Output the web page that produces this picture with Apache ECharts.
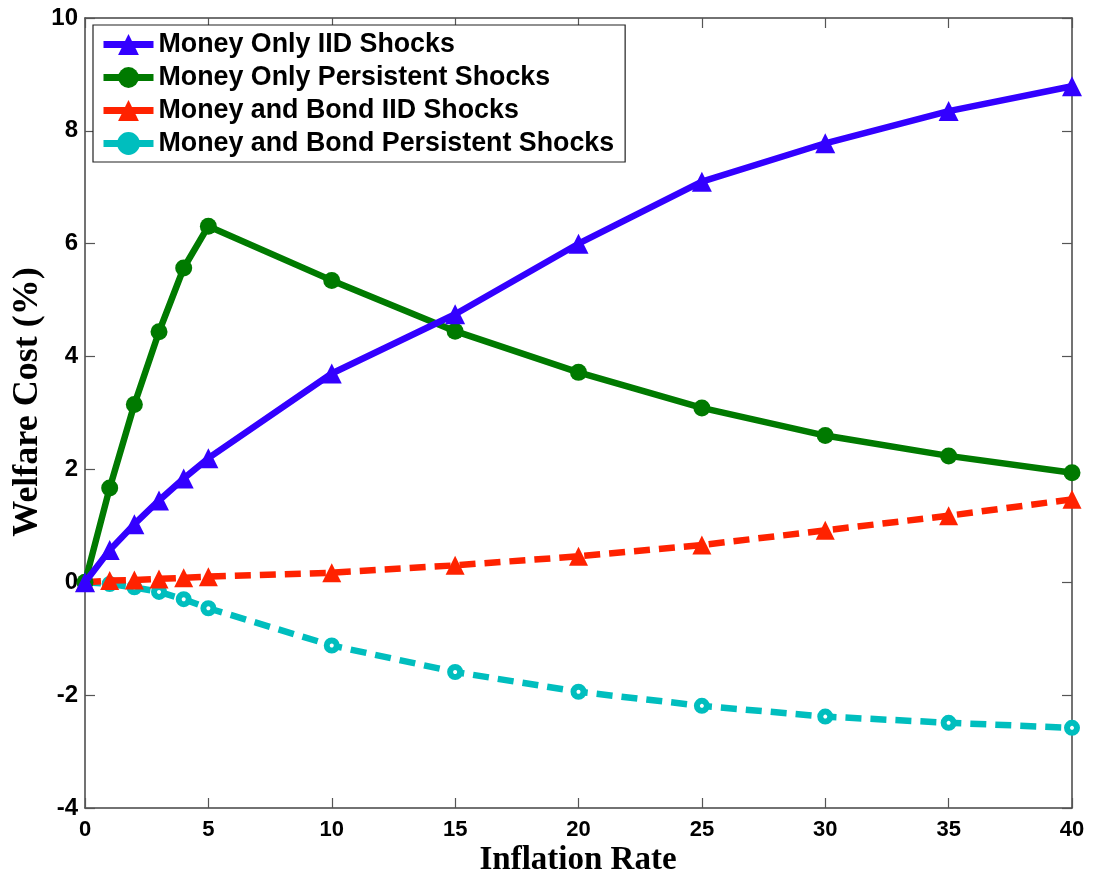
<!DOCTYPE html>
<html>
<head>
<meta charset="utf-8">
<script src="https://cdn.jsdelivr.net/npm/echarts@6/dist/echarts.min.js"></script>
<style>
  html, body { margin: 0; padding: 0; background: #fff; }
  #chart { width: 1094px; height: 879px; }
</style>
</head>
<body>
<div id="chart"></div>
<script>
// Inflation rates (%) at which welfare cost was evaluated
const inflation = [0, 1, 2, 3, 4, 5, 10, 15, 20, 25, 30, 35, 40];

// Welfare cost (%) for each scenario
const moneyOnlyIID        = [0, 0.57, 1.03, 1.45, 1.84, 2.2, 3.7, 4.75, 6.0, 7.1, 7.78, 8.35, 8.79];
const moneyOnlyPersistent = [0, 1.67, 3.15, 4.44, 5.57, 6.31, 5.35, 4.45, 3.72, 3.09, 2.6, 2.24, 1.94];
const moneyBondIID        = [0, 0.03, 0.04, 0.06, 0.08, 0.1, 0.17, 0.3, 0.46, 0.66, 0.92, 1.18, 1.47];
const moneyBondPersistent = [0, -0.03, -0.09, -0.17, -0.3, -0.46, -1.12, -1.59, -1.94, -2.19, -2.38, -2.49, -2.58];

const seriesNames = [
  'Money Only IID Shocks',
  'Money Only Persistent Shocks',
  'Money and Bond IID Shocks',
  'Money and Bond Persistent Shocks'
];

const xTitle = 'Inflation Rate';
const yTitle = 'Welfare Cost (%)';

const xTicks = { min: 0, max: 40, interval: 5 };
const yTicks = { min: -4, max: 10, interval: 2 };

const pairs = ys => inflation.map((x, i) => [x, ys[i]]);

const sansBold = 'Liberation Sans, Arial, sans-serif';
const serifTitle = 'bold 33px "Liberation Serif", "Times New Roman", serif';
const frameLine = { show: true, onZero: false, lineStyle: { color: '#444', width: 1.5 } };
const innerTick = { show: true, inside: true, length: 10, lineStyle: { color: '#555', width: 1.2 } };

const chart = echarts.init(document.getElementById('chart'), null, { renderer: 'canvas' });

chart.setOption({
  backgroundColor: '#fff',
  animation: false,
  grid: { left: 85, right: 22, top: 18, bottom: 71, containLabel: false, outerBoundsMode: 'none' },
  legend: {
    orient: 'vertical',
    left: 93,
    top: 25,
    padding: [6, 11, 5, 7],
    itemGap: 6,
    itemWidth: 50,
    itemHeight: 26,
    backgroundColor: '#fff',
    borderColor: '#222',
    borderWidth: 1.2,
    borderRadius: 0,
    lineStyle: { width: 7, type: 'solid' },
    textStyle: { fontFamily: sansBold, fontWeight: 'bold', fontSize: 26.8, color: '#000' },
    data: [
      { name: seriesNames[0] },
      { name: seriesNames[1] },
      { name: seriesNames[2] },
      { name: seriesNames[3], itemStyle: { color: '#00bebe', borderColor: '#00bebe', borderWidth: 2 } }
    ]
  },
  xAxis: [
    {
      type: 'value', min: xTicks.min, max: xTicks.max, interval: xTicks.interval,
      axisLine: frameLine, axisTick: innerTick,
      axisLabel: { margin: 11, fontFamily: sansBold, fontWeight: 'bold', fontSize: 22, color: '#000' },
      splitLine: { show: false }
    },
    {
      type: 'value', position: 'top', min: xTicks.min, max: xTicks.max, interval: xTicks.interval,
      axisLine: frameLine, axisTick: innerTick, axisLabel: { show: false }, splitLine: { show: false }
    }
  ],
  yAxis: [
    {
      type: 'value', min: yTicks.min, max: yTicks.max, interval: yTicks.interval,
      axisLine: frameLine, axisTick: innerTick,
      axisLabel: { margin: 7, fontFamily: sansBold, fontWeight: 'bold', fontSize: 24, color: '#000' },
      splitLine: { show: false }
    },
    {
      type: 'value', position: 'right', min: yTicks.min, max: yTicks.max, interval: yTicks.interval,
      axisLine: frameLine, axisTick: innerTick, axisLabel: { show: false }, splitLine: { show: false }
    }
  ],
  graphic: [
    {
      type: 'text',
      x: 28, y: 402,
      rotation: Math.PI / 2,
      style: { text: yTitle, font: 'bold 36px "Liberation Serif", "Times New Roman", serif', fill: '#000', align: 'center', verticalAlign: 'middle' }
    },
    {
      type: 'text',
      x: 578, y: 860,
      style: { text: xTitle, font: serifTitle, fill: '#000', align: 'center', verticalAlign: 'middle' }
    }
  ],
  series: [
    {
      name: seriesNames[0], type: 'line', data: pairs(moneyOnlyIID),
      symbol: 'triangle', symbolSize: 20,
      lineStyle: { color: '#3300ff', width: 6.5 },
      itemStyle: { color: '#3300ff' }, z: 4
    },
    {
      name: seriesNames[1], type: 'line', data: pairs(moneyOnlyPersistent),
      symbol: 'circle', symbolSize: 17,
      lineStyle: { color: '#007a00', width: 6.5 },
      itemStyle: { color: '#007a00' }, z: 3
    },
    {
      name: seriesNames[2], type: 'line', data: pairs(moneyBondIID),
      symbol: 'triangle', symbolSize: 19,
      lineStyle: { color: '#ff2200', width: 6.5, type: [16, 9] },
      itemStyle: { color: '#ff2200' }, z: 2
    },
    {
      name: seriesNames[3], type: 'line', data: pairs(moneyBondPersistent),
      symbol: 'circle', symbolSize: 10,
      lineStyle: { color: '#00bebe', width: 6.5, type: [16, 9] },
      itemStyle: { color: '#ffffff', borderColor: '#00bebe', borderWidth: 6 }, z: 1
    }
  ]
});
</script>
</body>
</html>
